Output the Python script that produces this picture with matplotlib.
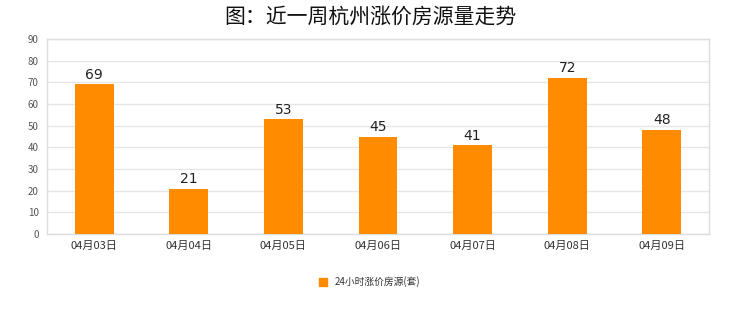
import matplotlib
matplotlib.use("Agg")
import matplotlib.pyplot as plt
from matplotlib.patches import Patch

plt.rcParams['font.family'] = ['Noto Sans CJK SC', 'DejaVu Sans']

categories = ["04月03日", "04月04日", "04月05日", "04月06日", "04月07日", "04月08日", "04月09日"]
values = [69, 21, 53, 45, 41, 72, 48]
series_name = "24小时涨价房源(套)"
title = "图：近一周杭州涨价房源量走势"

W, H = 740, 312
fig = plt.figure(figsize=(W / 100, H / 100), dpi=100)
fig.patch.set_facecolor("white")
ax = fig.add_axes([47 / W, 1 - 234 / H, (709 - 47) / W, (234 - 39) / H])

color = "#FF8C00"
x = range(len(categories))
bars = ax.bar(x, values, width=0.41, color=color, zorder=3)
for xi, v in zip(x, values):
    ax.text(xi, v + 1.2, str(v), ha="center", va="bottom", fontsize=10,
            family="DejaVu Sans", color="#222222", zorder=4)

ax.set_xlim(-0.5, len(categories) - 0.5)
ax.set_ylim(0, 90)
ax.set_yticks(range(0, 91, 10))
ax.yaxis.grid(True, color="#e6e6e6", linewidth=1, zorder=0)
ax.set_xticks(list(x))
ax.set_xticklabels(categories, fontsize=8, color="#333333")
ax.tick_params(axis="y", labelsize=7, colors="#555555", length=0, pad=6)
ax.tick_params(axis="x", length=0, pad=5)
for s in ax.spines.values():
    s.set_color("#dddddd")
    s.set_linewidth(1)

fig.text(0.5, 1 - 17 / H, title, ha="center", va="center", fontsize=15,
         fontweight="normal", color="#111111")

handles = [Patch(facecolor=color, edgecolor=color)]
fig.legend(handles, [series_name], loc="center", bbox_to_anchor=(370 / W, 1 - 282 / H),
           frameon=False, fontsize=7, handlelength=0.8, handleheight=0.8,
           handletextpad=0.8, labelcolor="#333333")

fig.savefig("out.png", dpi=100, facecolor="white")
